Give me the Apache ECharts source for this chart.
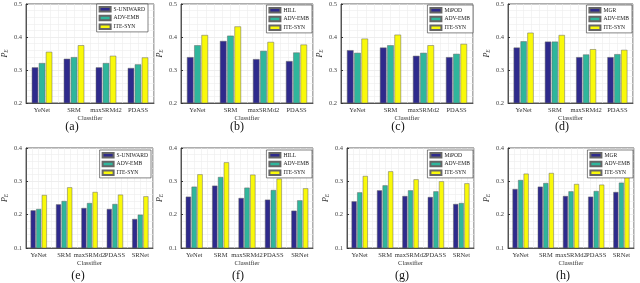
<!DOCTYPE html>
<html><head><meta charset="utf-8">
<script src="https://cdn.jsdelivr.net/npm/echarts@6/dist/echarts.min.js"></script>
<style>html,body{margin:0;padding:0;background:#fff}#c{width:640px;height:283px}</style>
</head><body><div id="c"></div>
<script>
const catsTop = ['YeNet', 'SRM', 'maxSRMd2', 'PDASS'];
const catsBottom = ['YeNet', 'SRM', 'maxSRMd2', 'PDASS', 'SRNet'];
const baselines = ['S-UNIWARD', 'HILL', 'MiPOD', 'MGR'];
const advName = 'ADV-EMB';
const iteName = 'ITE-SYN';
const panelLabels = ['(a)', '(b)', '(c)', '(d)', '(e)', '(f)', '(g)', '(h)'];
const yTicksTop = [0.2, 0.3, 0.4, 0.5];
const yTicksBottom = [0.1, 0.2, 0.3, 0.4];

const aBase = [0.308, 0.334, 0.308, 0.306];
const aAdv  = [0.321, 0.339, 0.321, 0.317];
const aIte  = [0.355, 0.375, 0.343, 0.338];
const bBase = [0.339, 0.388, 0.333, 0.327];
const bAdv  = [0.375, 0.404, 0.358, 0.353];
const bIte  = [0.406, 0.432, 0.385, 0.377];
const cBase = [0.360, 0.368, 0.343, 0.339];
const cAdv  = [0.352, 0.375, 0.352, 0.349];
const cIte  = [0.395, 0.407, 0.375, 0.379];
const dBase = [0.368, 0.386, 0.339, 0.339];
const dAdv  = [0.387, 0.386, 0.347, 0.348];
const dIte  = [0.413, 0.406, 0.363, 0.361];
const eBase = [0.213, 0.231, 0.220, 0.217, 0.187];
const eAdv  = [0.217, 0.241, 0.235, 0.232, 0.200];
const eIte  = [0.259, 0.282, 0.268, 0.260, 0.255];
const fBase = [0.254, 0.287, 0.250, 0.245, 0.212];
const fAdv  = [0.284, 0.313, 0.281, 0.274, 0.243];
const fIte  = [0.321, 0.357, 0.320, 0.308, 0.279];
const gBase = [0.240, 0.273, 0.256, 0.253, 0.232];
const gAdv  = [0.267, 0.288, 0.273, 0.270, 0.235];
const gIte  = [0.316, 0.330, 0.306, 0.300, 0.294];
const hBase = [0.277, 0.284, 0.256, 0.254, 0.268];
const hAdv  = [0.304, 0.295, 0.270, 0.271, 0.296];
const hIte  = [0.323, 0.325, 0.292, 0.290, 0.339];

const panels = [
  {base: 0, cats: catsTop, ticks: yTicksTop, data: [aBase, aAdv, aIte]},
  {base: 1, cats: catsTop, ticks: yTicksTop, data: [bBase, bAdv, bIte]},
  {base: 2, cats: catsTop, ticks: yTicksTop, data: [cBase, cAdv, cIte]},
  {base: 3, cats: catsTop, ticks: yTicksTop, data: [dBase, dAdv, dIte]},
  {base: 0, cats: catsBottom, ticks: yTicksBottom, data: [eBase, eAdv, eIte]},
  {base: 1, cats: catsBottom, ticks: yTicksBottom, data: [fBase, fAdv, fIte]},
  {base: 2, cats: catsBottom, ticks: yTicksBottom, data: [gBase, gAdv, gIte]},
  {base: 3, cats: catsBottom, ticks: yTicksBottom, data: [hBase, hAdv, hIte]}
];

// layout
const gridBoxes = [
  [19, 4, 135, 99], [181, 4, 132, 99], [341, 4, 132, 99], [508, 4, 125, 99],
  [18, 148, 135, 100], [181, 148, 132, 100], [347, 148, 127, 100], [508, 148, 126, 100]
];
const legendBoxes = [
  [492, 4], [328, 5], [167, 5], [8, 5],
  [489, 150], [328, 150], [167, 150], [7, 150]
];
const labelPos = [
  [72, 127], [237, 127], [398, 127], [562, 127],
  [78, 276], [238, 276], [402, 276], [563, 276]
];
const colors = ['#2e2a8c', '#2fb69c', '#f9f90a'];
const FONT = 'Liberation Serif';

const grid = [], xAxis = [], yAxis = [], series = [], legend = [], graphic = [];
panels.forEach((p, i) => {
  const [l, t, w, h] = gridBoxes[i];
  grid.push({left: l, top: t, width: w, height: h, show: true,
    borderColor: '#333', borderWidth: 0.8, backgroundColor: '#fff', containLabel: false});
  const n = p.cats.length;
  xAxis.push({type: 'category', gridIndex: i, data: p.cats,
    axisLine: {lineStyle: {color: '#333', width: 0.8}},
    axisTick: {show: false},
    axisLabel: {fontFamily: FONT, fontSize: 6.5, color: '#333', margin: 4, interval: 0},
    name: 'Classifier', nameLocation: 'middle', nameGap: 12,
    nameTextStyle: {fontFamily: FONT, fontSize: 6.5, color: '#333'},
    splitLine: {show: false}, z: 3});
  // hidden value axis for the vertical minor grid
  xAxis.push({type: 'value', gridIndex: i, min: 0, max: n * 4, interval: 1,
    position: 'top', axisLine: {show: false}, axisTick: {show: false}, axisLabel: {show: false},
    splitLine: {show: true, lineStyle: {color: '#ececec', width: 0.6}}});
  yAxis.push({type: 'value', gridIndex: i, min: p.ticks[0], max: p.ticks[p.ticks.length - 1], interval: 0.1,
    axisLine: {show: true, lineStyle: {color: '#333', width: 0.8}},
    axisTick: {show: true, inside: true, length: 2, lineStyle: {color: '#333'}},
    axisLabel: {fontFamily: FONT, fontSize: 6.5, color: '#444', margin: 4,
      formatter: v => v.toFixed(1)},
    splitLine: {show: true, lineStyle: {color: '#e2e2e2', width: 0.6}},
    minorTick: {show: true, splitNumber: 5, length: 0},
    minorSplitLine: {show: true, lineStyle: {color: '#ececec', width: 0.6}},
    name: '{p|P}{s|E}', nameLocation: 'middle', nameGap: 10, nameRotate: 90,
    nameTextStyle: {rich: {
      p: {fontFamily: FONT, fontStyle: 'italic', fontSize: 8, color: '#333'},
      s: {fontFamily: FONT, fontStyle: 'italic', fontSize: 5.5, color: '#333', verticalAlign: 'bottom', padding: [4, 0, 0, 0]}
    }}});
  const names = [baselines[p.base], advName, iteName];
  names.forEach((nm, k) => {
    series.push({type: 'bar', name: nm, xAxisIndex: 2 * i, yAxisIndex: i,
      data: p.data[k], barGap: '10%', barCategoryGap: '36%',
      itemStyle: {color: colors[k], borderColor: '#666', borderWidth: 0.5},
      silent: true, animation: false});
  });
  legend.push({data: names, right: legendBoxes[i][0], top: legendBoxes[i][1], orient: 'vertical',
    itemWidth: 11, itemHeight: 4.5, itemGap: 2.2, padding: [2, 3, 2, 2],
    backgroundColor: '#fff', borderColor: '#333', borderWidth: 0.6,
    textStyle: {fontFamily: FONT, fontSize: 5.6, color: '#222', padding: [0, 0, 0, -2]},
    icon: 'rect', selectedMode: false});
  graphic.push({type: 'text', x: labelPos[i][0], y: labelPos[i][1],
    style: {text: panelLabels[i], fontFamily: FONT, fontSize: 12, fill: '#111',
      align: 'center', verticalAlign: 'middle'}});
});

const chart = echarts.init(document.getElementById('c'), null, {renderer: 'canvas'});
chart.setOption({animation: false, grid, xAxis, yAxis, series, legend, graphic});
</script></body></html>
